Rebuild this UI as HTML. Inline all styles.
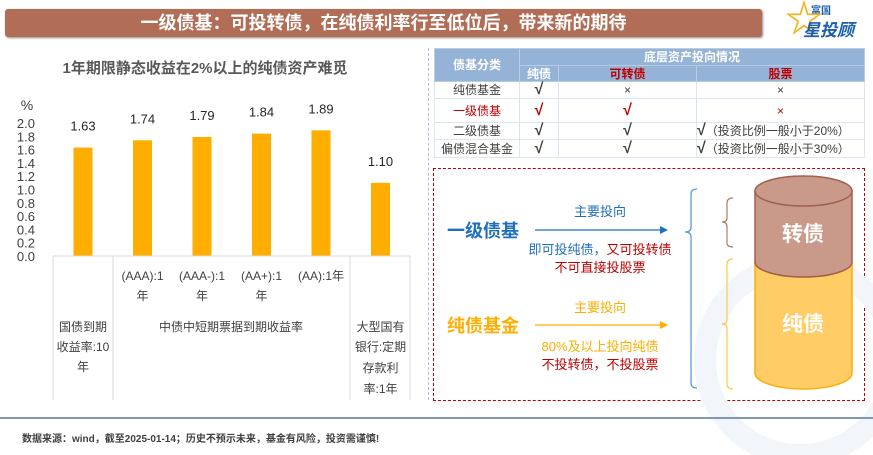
<!DOCTYPE html>
<html><head><meta charset="utf-8"><style>
body{margin:0;width:873px;height:455px;overflow:hidden;background:#fff;position:relative;font-family:"Liberation Sans","Noto Sans CJK SC",sans-serif}
.a{position:absolute;white-space:nowrap}
table{border-collapse:collapse;position:absolute;left:434px;top:48px;width:431px;font-size:12px;color:#404040}
td{text-align:center;padding:0;border:1px solid #dce6f1;line-height:14px}
.ck{font-size:16px;font-weight:bold}
</style></head><body>
<div class="a" style="left:5px;top:9px;width:757px;height:28px;background:#b26d57;border-radius:3px;box-shadow:1px 1px 2px #888"></div>
<div class="a" style="left:5px;top:11px;width:757px;text-align:center;color:#fff;font-weight:bold;font-size:18px;line-height:24px">一级债基：可投转债，在纯债利率行至低位后，带来新的期待</div>
<div class="a" style="left:785px;top:2px;color:#1a5fae;font-weight:bold">
<div style="position:absolute;left:26px;top:0;font-size:10px">富国</div>
<div style="position:absolute;left:0;top:-2px;font-size:38px;color:#f5b11a;line-height:40px">☆</div>
<div style="position:absolute;left:18px;top:14px;font-size:17px;font-style:italic">星投顾</div></div>

<svg class="a" style="left:0;top:0" width="430" height="410">
<text x="205" y="73" text-anchor="middle" font-size="15" font-weight="bold" fill="#595959">1年期限静态收益在2%以上的纯债资产难觅</text>
<text x="27" y="110" text-anchor="middle" font-size="14" fill="#404040">%</text>
<g id="yt"></g><g id="bars"></g><g id="cats"></g>
</svg>
<script>
const categories=["国债到期收益率:10年","(AAA):1年","(AAA-):1年","(AA+):1年","(AA):1年","大型国有银行:定期存款利率:1年"];
const values=[1.63,1.74,1.79,1.84,1.89,1.10];
const valueLabels=["1.63","1.74","1.79","1.84","1.89","1.10"];
const yTicks=[0,0.2,0.4,0.6,0.8,1.0,1.2,1.4,1.6,1.8,2.0];
const NS="http://www.w3.org/2000/svg";
const y=v=>256-v/2*133, x=i=>83+i*59.5;
const yt=document.getElementById('yt'),bars=document.getElementById('bars'),cats=document.getElementById('cats');
function mk(tag,at,par,txt){const e=document.createElementNS(NS,tag);for(const k in at)e.setAttribute(k,at[k]);if(txt!=null)e.textContent=txt;par.appendChild(e);return e;}
yTicks.forEach(t=>{const e=mk('text',{x:35,y:y(t)+5,'text-anchor':'end','font-size':13,fill:'#404040'},yt,t.toFixed(1));

});
values.forEach((v,i)=>{const r=mk('rect',{x:x(i)-9.5,y:y(v),width:19,height:256-y(v),fill:'#ffae00'},bars);


const t=mk('text',{x:x(i),y:y(v)-17,'text-anchor':'middle','font-size':13,fill:'#262626'},bars,valueLabels[i]);

});
[53,113,350,410].forEach(px=>{const l=mk('line',{x1:px,x2:px,y1:256,y2:400,stroke:'#d9d9d9'},cats);

});
mk('line',{x1:53,x2:410,y1:256,y2:256,stroke:'#d9d9d9'},cats);
function lines(cx,ys,arr){arr.forEach((s,k)=>{const t=mk('text',{x:cx,y:ys[k],'text-anchor':'middle','font-size':12,fill:'#404040'},cats,s);

});}
lines(x(0),[331,351,371],["国债到期","收益率:10","年"]);
for(let i=1;i<=3;i++){const s=categories[i].replace('年','');lines(x(i),[280,300],[s,"年"]);}
lines(x(4),[280],[categories[4]]);
lines(231,[331],["中债中短期票据到期收益率"]);
lines(x(5),[331,351,372,393],["大型国有","银行:定期","存款利","率:1年"]);
</script>
<div class="a" style="left:428px;top:48px;height:352px;border-left:1px dashed #b0bcd0"></div>

<table>
<tr style="height:17px;background:#95b3d7;color:#fff;font-weight:bold"><td rowspan="2" style="width:84px;border-color:#b8cce4">债基分类</td><td colspan="3" style="border-color:#b8cce4">底层资产投向情况</td></tr>
<tr style="height:16px;background:#95b3d7;font-weight:bold"><td style="width:38px;color:#fff;border-color:#b8cce4">纯债</td><td style="width:137px;color:#c00000;border-color:#b8cce4">可转债</td><td style="color:#c00000;border-color:#b8cce4">股票</td></tr>
<tr style="height:17px"><td>纯债基金</td><td class="ck">√</td><td>×</td><td>×</td></tr>
<tr style="height:24px;color:#c00000"><td>一级债基</td><td class="ck">√</td><td class="ck">√</td><td>×</td></tr>
<tr style="height:17px"><td>二级债基</td><td class="ck">√</td><td class="ck">√</td><td style="text-align:left"><span class="ck">√</span>（投资比例一般小于20%）</td></tr>
<tr style="height:18px"><td>偏债混合基金</td><td class="ck">√</td><td class="ck">√</td><td style="text-align:left"><span class="ck">√</span>（投资比例一般小于30%）</td></tr>
</table>

<div class="a" style="left:433px;top:168px;width:430px;height:231px;border:1px dashed #c00000"></div>
<svg class="a" style="left:0;top:0" width="873" height="455">
<circle cx="800" cy="360" r="95" fill="none" stroke="#f2f5fa" stroke-width="22"/>
<text x="483" y="237" text-anchor="middle" font-size="18" font-weight="bold" fill="#1f6fbf">一级债基</text>
<text x="600" y="216" text-anchor="middle" font-size="13" fill="#1f6fbf">主要投向</text>
<line x1="535" y1="230" x2="664" y2="230" stroke="#1f6fbf" stroke-width="1.2"/><polygon points="668,230 660,226 660,234" fill="#1f6fbf"/>
<text x="600" y="254" text-anchor="middle" font-size="13"><tspan fill="#1f6fbf">即可投纯债，</tspan><tspan fill="#c00000">又可投转债</tspan></text>
<text x="600" y="272" text-anchor="middle" font-size="13" fill="#c00000">不可直接投股票</text>
<text x="483" y="332" text-anchor="middle" font-size="18" font-weight="bold" fill="#ffae00">纯债基金</text>
<text x="600" y="312" text-anchor="middle" font-size="13" fill="#ffae00">主要投向</text>
<line x1="535" y1="325" x2="664" y2="325" stroke="#ffae00" stroke-width="1.2"/><polygon points="668,325 660,321 660,329" fill="#ffae00"/>
<text x="600" y="351" text-anchor="middle" font-size="13" fill="#ffae00">80%及以上投向纯债</text>
<text x="600" y="369" text-anchor="middle" font-size="13" fill="#c00000">不投转债，不投股票</text>
<path d="M697,189 Q691,189 691,194 L691,227 Q691,232 685,232 Q691,232 691,237 L691,383 Q691,388 697,388" fill="none" stroke="#5b9bd5" stroke-width="1.3"/>
<path d="M733,198 Q727,198 727,203 L727,218 Q727,222 722,222 Q727,222 727,227 L727,243 Q727,247 733,247" fill="none" stroke="#b07a68" stroke-width="1.2"/>
<path d="M733,259 Q727,259 727,264 L727,320 Q727,324 722,324 Q727,324 727,328 L727,384 Q727,389 733,389" fill="none" stroke="#ffc845" stroke-width="1.2"/>
<path d="M755,262 L755,373 A48.5,16 0 0 0 852,373 L852,262 Z" fill="#ffcc66" stroke="#ffae00" stroke-width="1.5"/>
<path d="M755,191 L755,262 A48.5,15 0 0 0 852,262 L852,191 Z" fill="#c99a8a" stroke="#a0604c" stroke-width="1.5"/>
<ellipse cx="803.5" cy="191" rx="48.5" ry="15" fill="#c99a8a" stroke="#a0604c" stroke-width="1.5"/>
<text x="803" y="241" text-anchor="middle" font-size="21" font-weight="bold" fill="#fff">转债</text>
<text x="803" y="331" text-anchor="middle" font-size="21" font-weight="bold" fill="#fff">纯债</text>
</svg>

<div class="a" style="left:0;top:417px;width:873px;height:2px;background:#7f98b8"></div>
<div class="a" style="left:22px;top:430px;font-size:10px;font-weight:bold;color:#404040">数据来源：wind，截至2025-01-14；历史不预示未来，基金有风险，投资需谨慎!</div>
</body></html>
